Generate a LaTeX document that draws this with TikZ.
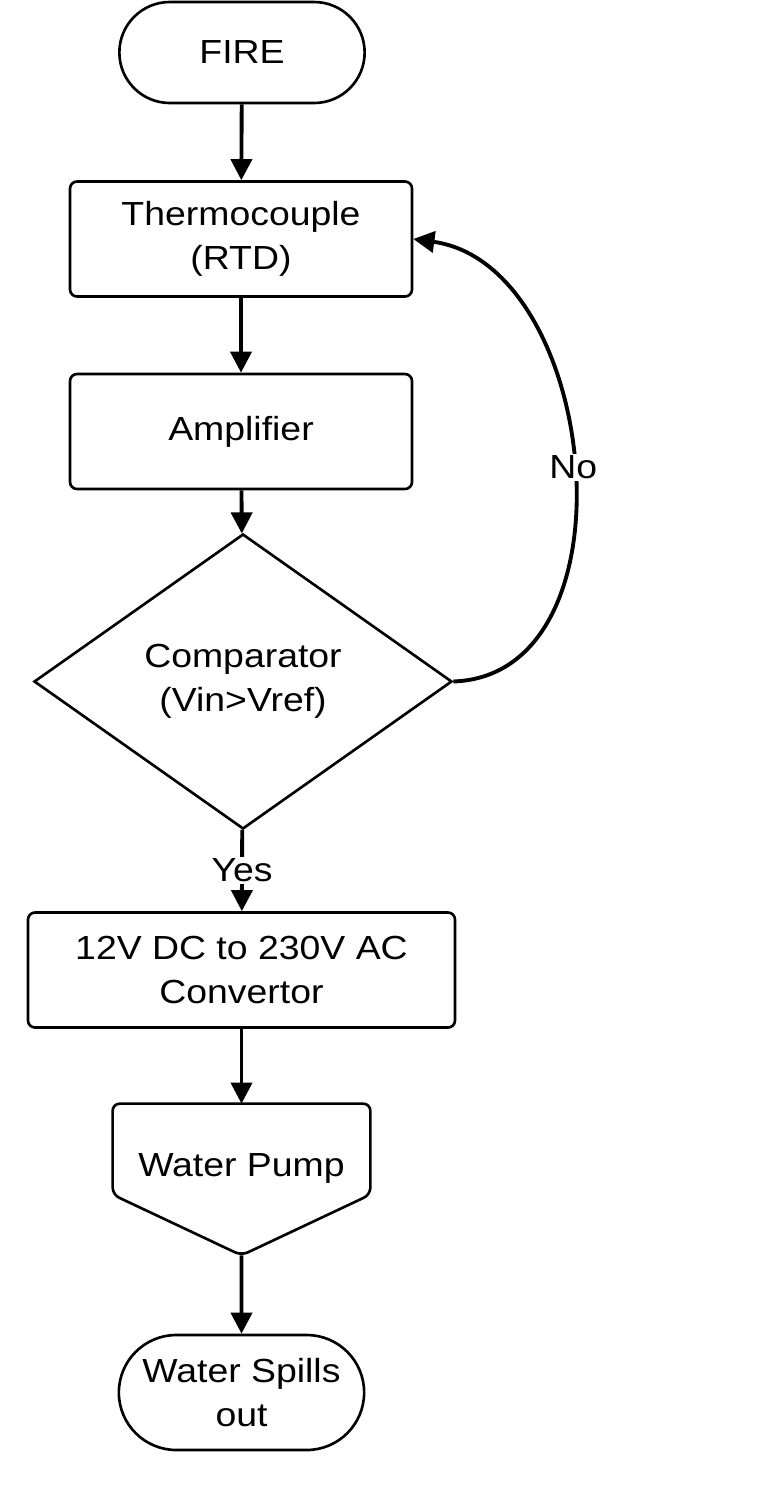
\documentclass[tikz,border=0pt]{standalone}
\usepackage{fontspec}
\setmainfont[FakeStretch=1.12]{Liberation Sans}
\usetikzlibrary{shapes.geometric,shapes.misc,calc,arrows.meta}

\tikzstyle{terminal} = [
    rounded rectangle,
    minimum width=5.14cm,
    minimum height=2.2cm,
    align=center,
    draw=black,
    line width=1.5pt,
]
\tikzstyle{process} = [
    rectangle,
    rounded corners=4pt,
    minimum height=2.3cm,
    align=center,
    draw=black,
    line width=1.5pt,
]
\tikzstyle{decision} = [
    diamond,
    minimum width=8.36cm,
    minimum height=4.54cm,
    align=center,
    draw=black,
    line width=1.5pt,
]
\tikzstyle{arrow} = [
    line width=2.2pt,
    -{Triangle[length=12pt,width=12pt]}
]

\begin{document}
\begin{tikzpicture}[font=\fontsize{19}{25}\selectfont]
        \useasboundingbox (0,0) rectangle (15.28,-29.7);
        %% nodes
        \node (fire) [terminal, minimum height=2.02cm] at (4.84,-1.05) {FIRE};
        \node (thermo) [process, minimum width=6.84cm] at (4.82,-4.78) {Thermocouple\\(RTD)};
        \node (amp) [process, minimum width=6.84cm] at (4.82,-8.63) {Amplifier};
        \node (comp) [decision] at (4.86,-13.63) {Comparator\\(Vin>Vref)};
        \node (conv) [process, minimum width=8.54cm] at (4.83,-19.4) {12V DC to 230V AC\\Convertor};
        \node (pump) [minimum width=5.14cm, minimum height=2.56cm] at (4.83,-23.36) {Water Pump};
        \node (spills) [terminal, minimum height=2.3cm] at (4.83,-27.85) {Water Spills\\out};
        %% pump outline
        \coordinate (pumptip) at ($(pump.south)+(0,-0.46)$);
        \draw [line width=1.5pt, rounded corners=4pt] (pump.north west) -- (pump.north east)
            -- ($(pump.north east)+(0,-1.82)$) -- (pumptip)
            -- ($(pump.north west)+(0,-1.82)$) -- cycle;
        %% connectors
        \draw [arrow] (fire) -- (thermo);
        \draw [arrow] (thermo) -- (amp);
        \draw [arrow] (amp) -- (comp);
        \draw [arrow] (comp) -- node[fill=white, inner sep=1pt, pos=0.5] {Yes} (conv);
        \draw [arrow] (conv) -- (pump);
        \draw [arrow] (pumptip) -- (spills);
        \draw [arrow] (comp.east) .. controls (12.8,-13.5) and (12.0,-5.3) .. node[fill=white, inner sep=1pt, pos=0.5] {No} (thermo.east);
    \end{tikzpicture}
\end{document}
